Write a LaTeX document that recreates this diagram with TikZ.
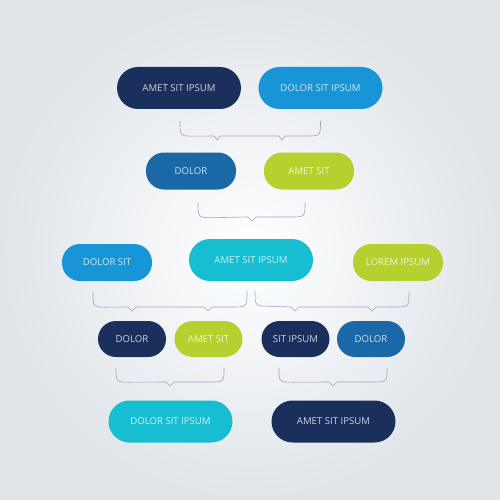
\documentclass[tikz,border=0pt]{standalone}
\usepackage{fontspec}
\setmainfont{Open Sans}
\usetikzlibrary{positioning,calc}
\definecolor{navy}{HTML}{1B2F5C}
\definecolor{skyblue}{HTML}{1795D6}
\definecolor{midblue}{HTML}{1A68A6}
\definecolor{lime}{HTML}{B6D030}
\definecolor{teal}{HTML}{17BDD0}
\definecolor{bracecol}{HTML}{A4A0C6}
\definecolor{bgcol}{HTML}{E0E5EA}

\begin{document}
\begin{tikzpicture}[x=1pt, y=-1pt, font=\fontsize{9.6}{11}\selectfont]
\tikzstyle{pill}=[rounded corners=18pt, minimum height=36pt, inner sep=0pt, text=white, text opacity=0.78]
\tikzstyle{bigpill}=[pill, minimum width=124pt, minimum height=42pt, rounded corners=21pt]
\tikzstyle{midpill}=[pill, minimum width=90pt, minimum height=37pt]
\tikzstyle{smallpill}=[pill, minimum width=68pt]
\tikzstyle{brace}=[draw=bracecol, line width=0.6pt]

% background
\useasboundingbox (0,0) rectangle (500,500);
\shade[inner color=white, outer color=bgcol] (0,0) rectangle (500,500);

% row 1
\node[bigpill, fill=navy]    (a1) at (179,88)   {AMET SIT IPSUM};
\node[bigpill, fill=skyblue] (a2) at (320.5,88) {DOLOR SIT IPSUM};
% row 2
\node[midpill, fill=midblue] (b1) at (191,171) {DOLOR};
\node[midpill, fill=lime]    (b2) at (309,171) {AMET SIT};
% row 3
\node[midpill, fill=skyblue] (c1) at (107,262.5) {DOLOR SIT};
\node[bigpill, fill=teal]    (c2) at (251,260)   {AMET SIT IPSUM};
\node[midpill, fill=lime]    (c3) at (398,262.5) {LOREM IPSUM};
% row 4
\node[smallpill, fill=navy]    (d1) at (132,339)   {DOLOR};
\node[smallpill, fill=lime]    (d2) at (208.5,339) {AMET SIT};
\node[smallpill, fill=navy]    (d3) at (295.5,339) {SIT IPSUM};
\node[smallpill, fill=midblue] (d4) at (371,339)   {DOLOR};
% row 5
\node[bigpill, fill=teal] (e1) at (170.5,421.5) {DOLOR SIT IPSUM};
\node[bigpill, fill=navy] (e2) at (333.5,421.5) {AMET SIT IPSUM};

% braces
\draw[brace] ($(a1.south)+(1,12)$) .. controls +(0,15) .. +(15,15)
  -- (214,136) -- (217,140) -- (220,136) -- (279,136) -- (282,140) -- (285,136)
  -- (305.5,136) .. controls (320.5,136) .. ($(a2.south)+(0,12)$);
\draw[brace] ($(b1.south)+(7,13)$) .. controls +(0,15) .. +(15,15)
  -- (248,217) -- (252,221) -- (256,217)
  -- (290,217) .. controls (305,217) .. ($(b2.south)+(-4,13)$);
\draw[brace] ($(c1.south)+(-14,11)$) .. controls +(0,15) .. +(15,15)
  -- (128,307) -- (132,311) -- (136,307) -- (204,307) -- (208,311) -- (212,307)
  -- (232,307) .. controls (247,307) .. ($(c2.south)+(-4,10)$);
\draw[brace] ($(c2.south)+(4,10)$) .. controls +(0,15) .. +(15,15)
  -- (291,307) -- (295,311) -- (299,307) -- (368,307) -- (372,311) -- (376,307)
  -- (394,307) .. controls (409,307) .. ($(c3.south)+(11,11)$);
\draw[brace] ($(d1.south)+(-16,11)$) .. controls +(0,14) .. +(15,14)
  -- (166,382) -- (170,386) -- (174,382)
  -- (209,382) .. controls (224,382) .. ($(d2.south)+(15.5,11)$);
\draw[brace] ($(d3.south)+(-16.5,11)$) .. controls +(0,14) .. +(15,14)
  -- (329,382) -- (333,386) -- (337,382)
  -- (372,382) .. controls (387,382) .. ($(d4.south)+(16,11)$);
\end{tikzpicture}
\end{document}
